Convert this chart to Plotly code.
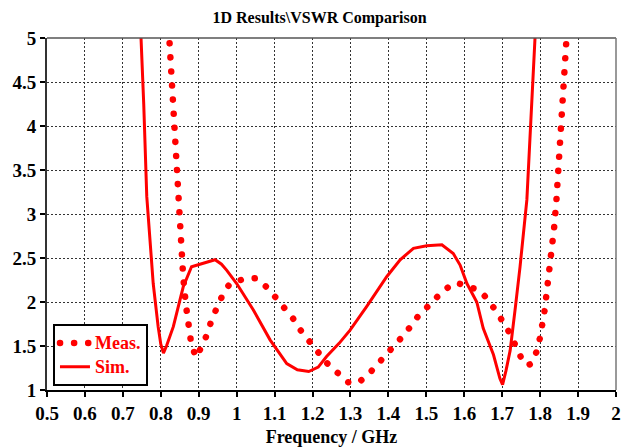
import plotly.graph_objects as go

# ---------------- data ----------------
sim_freq = [0.745, 0.755, 0.763, 0.772, 0.780, 0.793, 0.800, 0.807, 0.815, 0.833,
            0.859, 0.881, 0.912, 0.943, 0.960, 0.974, 1.000, 1.044, 1.088, 1.132,
            1.160, 1.190, 1.215, 1.237, 1.270, 1.299, 1.343, 1.396, 1.431, 1.466,
            1.501, 1.541, 1.571, 1.589, 1.607, 1.633, 1.650, 1.677, 1.694, 1.701,
            1.710, 1.721, 1.735, 1.747, 1.765, 1.787, 1.790]
sim_vswr = [5.30, 4.25, 3.20, 2.62, 2.21, 1.72, 1.52, 1.42, 1.50, 1.72,
            2.17, 2.40, 2.44, 2.48, 2.43, 2.36, 2.21, 1.91, 1.57, 1.30,
            1.23, 1.21, 1.26, 1.38, 1.53, 1.68, 1.95, 2.29, 2.48, 2.61,
            2.64, 2.65, 2.55, 2.42, 2.21, 2.00, 1.70, 1.40, 1.13, 1.06,
            1.22, 1.45, 1.95, 2.40, 3.16, 5.00, 5.30]

meas_freq = [0.821, 0.835, 0.845, 0.851, 0.859, 0.866, 0.874, 0.881, 0.894, 0.910,
             0.923, 0.934, 0.947, 0.963, 0.982, 1.018, 1.051, 1.079, 1.103, 1.127,
             1.149, 1.170, 1.192, 1.215, 1.237, 1.265, 1.292, 1.308, 1.323, 1.352,
             1.375, 1.402, 1.426, 1.448, 1.470, 1.494, 1.518, 1.545, 1.576, 1.611,
             1.643, 1.668, 1.687, 1.708, 1.725, 1.741, 1.756, 1.767, 1.778, 1.791,
             1.800, 1.812, 1.821, 1.828, 1.837, 1.843, 1.855, 1.868, 1.871]
meas_vswr = [5.10, 4.00, 3.06, 2.59, 2.29, 1.97, 1.64, 1.50, 1.37, 1.50,
             1.64, 1.80, 1.94, 2.08, 2.21, 2.26, 2.27, 2.17, 2.05, 1.93,
             1.81, 1.67, 1.55, 1.42, 1.31, 1.20, 1.09, 1.075, 1.09, 1.20,
             1.31, 1.42, 1.54, 1.66, 1.80, 1.91, 2.02, 2.13, 2.22, 2.18,
             2.12, 2.00, 1.87, 1.74, 1.60, 1.45, 1.31, 1.28, 1.30, 1.44,
             1.60, 1.91, 2.22, 2.53, 2.85, 3.16, 4.00, 4.90, 5.10]

x_tick_vals = [0.5, 0.6, 0.7, 0.8, 0.9, 1.0, 1.1, 1.2, 1.3, 1.4, 1.5, 1.6, 1.7, 1.8, 1.9, 2.0]
x_tick_text = ["0.5", "0.6", "0.7", "0.8", "0.9", "1", "1.1", "1.2", "1.3", "1.4",
               "1.5", "1.6", "1.7", "1.8", "1.9", "2"]
y_tick_vals = [1, 1.5, 2, 2.5, 3, 3.5, 4, 4.5, 5]
y_tick_text = ["1", "1.5", "2", "2.5", "3", "3.5", "4", "4.5", "5"]

series_names = ["Meas.", "Sim."]

# ---------------- figure ----------------
RED = "#ff0000"
SERIF = "Liberation Serif"


def legend_label(s):
    return '<span style="font-size:18px">' + s + '</span>'


fig = go.Figure()
fig.add_trace(go.Scatter(x=meas_freq, y=meas_vswr, mode="lines",
                         name=legend_label(series_names[0]),
                         line=dict(color=RED, width=6.5, dash="0.1px,14px")))
fig.add_trace(go.Scatter(x=sim_freq, y=sim_vswr, mode="lines",
                         name=legend_label(series_names[1]),
                         line=dict(color=RED, width=3)))

axis_common = dict(
    showgrid=True, gridcolor="#333333", gridwidth=1, griddash="2px,2px",
    showline=True, linewidth=2, mirror=False,
    ticks="outside", ticklen=5, tickcolor="black", tickwidth=1.5,
    tickfont=dict(family=SERIF, size=19, color="black", weight="bold"),
    zeroline=False, automargin=False,
)

fig.update_layout(
    template="none",
    width=643, height=447,
    margin=dict(l=47, r=27, t=38, b=57),
    paper_bgcolor="white", plot_bgcolor="white",
    title=dict(text="1D Results\\VSWR Comparison", x=0.497, xanchor="center",
               y=1 - 17 / 447, yanchor="middle", yref="container",
               font=dict(family=SERIF, size=16, color="black", weight="bold")),
    xaxis=dict(range=[0.5, 2.0], tickmode="array", tickvals=x_tick_vals,
               ticktext=x_tick_text, linecolor="black",
               title=dict(text="Frequency / GHz", standoff=10,
                          font=dict(family=SERIF, size=18, color="black", weight="bold")),
               **axis_common),
    yaxis=dict(range=[1, 5], tickmode="array", tickvals=y_tick_vals,
               ticktext=y_tick_text, linecolor="#333333", **axis_common),
    legend=dict(x=0.0105, y=0.011, xanchor="left", yanchor="bottom",
                bgcolor="white", bordercolor="black", borderwidth=2,
                font=dict(family=SERIF, size=16, color=RED, weight="bold"),
                itemwidth=30, tracegroupgap=0),
    showlegend=True,
    shapes=[
        dict(type="line", xref="paper", yref="paper", x0=0, x1=1, y0=1, y1=1,
             line=dict(color="#555555", width=1.5)),
        dict(type="line", xref="paper", yref="paper", x0=1, x1=1, y0=0, y1=1,
             line=dict(color="#777777", width=1.5)),
    ],
)

post = """
var s = document.createElement('style');
s.innerHTML = 'path[style*="14px"]{stroke-linecap:round !important;}';
document.head.appendChild(s);
"""

fig.write_html("out.html", post_script=post)
